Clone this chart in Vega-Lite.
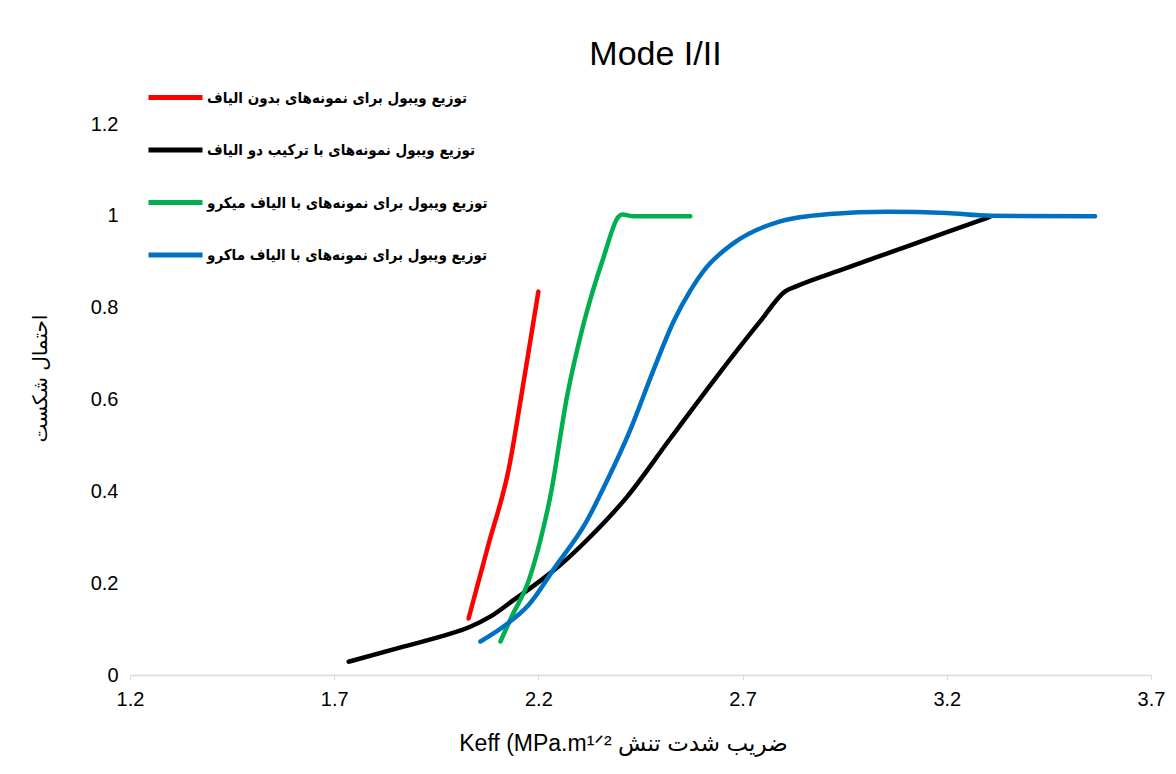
{
  "$schema": "https://vega.github.io/schema/vega-lite/v6.json",
  "autosize": "none",
  "width": 1021,
  "height": 551,
  "padding": {"left": 130, "top": 124, "right": 25, "bottom": 99},
  "background": "white",
  "config": {
    "font": "Liberation Sans, DejaVu Sans",
    "view": {"stroke": null}
  },
  "title": {
    "text": "Mode I/II",
    "font": "Liberation Sans",
    "fontSize": 34,
    "fontWeight": "normal",
    "color": "#000000",
    "anchor": "middle",
    "dx": 15,
    "dy": 44,
    "offset": 40
  },
  "data": {
    "values": [
      {"s": "توزیع ویبول برای نمونه‌های بدون الیاف", "k": 2.029, "p": 0.123},
      {"s": "توزیع ویبول برای نمونه‌های بدون الیاف", "k": 2.078, "p": 0.285},
      {"s": "توزیع ویبول برای نمونه‌های بدون الیاف", "k": 2.127, "p": 0.447},
      {"s": "توزیع ویبول برای نمونه‌های بدون الیاف", "k": 2.165, "p": 0.645},
      {"s": "توزیع ویبول برای نمونه‌های بدون الیاف", "k": 2.200, "p": 0.835},

      {"s": "توزیع ویبول نمونه‌های با ترکیب دو الیاف", "k": 1.7355, "p": 0.029},
      {"s": "توزیع ویبول نمونه‌های با ترکیب دو الیاف", "k": 1.854, "p": 0.058},
      {"s": "توزیع ویبول نمونه‌های با ترکیب دو الیاف", "k": 1.960, "p": 0.0835},
      {"s": "توزیع ویبول نمونه‌های با ترکیب دو الیاف", "k": 2.033, "p": 0.105},
      {"s": "توزیع ویبول نمونه‌های با ترکیب دو الیاف", "k": 2.082, "p": 0.127},
      {"s": "توزیع ویبول نمونه‌های با ترکیب دو الیاف", "k": 2.139, "p": 0.163},
      {"s": "توزیع ویبول نمونه‌های با ترکیب دو الیاف", "k": 2.197, "p": 0.200},
      {"s": "توزیع ویبول نمونه‌های با ترکیب دو الیاف", "k": 2.254, "p": 0.240},
      {"s": "توزیع ویبول نمونه‌های با ترکیب دو الیاف", "k": 2.319, "p": 0.294},
      {"s": "توزیع ویبول نمونه‌های با ترکیب دو الیاف", "k": 2.417, "p": 0.388},
      {"s": "توزیع ویبول نمونه‌های با ترکیب دو الیاف", "k": 2.523, "p": 0.515},
      {"s": "توزیع ویبول نمونه‌های با ترکیب دو الیاف", "k": 2.637, "p": 0.650},
      {"s": "توزیع ویبول نمونه‌های با ترکیب دو الیاف", "k": 2.743, "p": 0.770},
      {"s": "توزیع ویبول نمونه‌های با ترکیب دو الیاف", "k": 2.805, "p": 0.836},
      {"s": "توزیع ویبول نمونه‌های با ترکیب دو الیاف", "k": 2.834, "p": 0.8475},
      {"s": "توزیع ویبول نمونه‌های با ترکیب دو الیاف", "k": 2.950, "p": 0.885},
      {"s": "توزیع ویبول نمونه‌های با ترکیب دو الیاف", "k": 3.070, "p": 0.923},
      {"s": "توزیع ویبول نمونه‌های با ترکیب دو الیاف", "k": 3.190, "p": 0.961},
      {"s": "توزیع ویبول نمونه‌های با ترکیب دو الیاف", "k": 3.306, "p": 0.998},

      {"s": "توزیع ویبول برای نمونه‌های با الیاف میکرو", "k": 2.107, "p": 0.073},
      {"s": "توزیع ویبول برای نمونه‌های با الیاف میکرو", "k": 2.135, "p": 0.128},
      {"s": "توزیع ویبول برای نمونه‌های با الیاف میکرو", "k": 2.176, "p": 0.205},
      {"s": "توزیع ویبول برای نمونه‌های با الیاف میکرو", "k": 2.205, "p": 0.294},
      {"s": "توزیع ویبول برای نمونه‌های با الیاف میکرو", "k": 2.229, "p": 0.388},
      {"s": "توزیع ویبول برای نمونه‌های با الیاف میکرو", "k": 2.270, "p": 0.606},
      {"s": "توزیع ویبول برای نمونه‌های با الیاف میکرو", "k": 2.311, "p": 0.766},
      {"s": "توزیع ویبول برای نمونه‌های با الیاف میکرو", "k": 2.360, "p": 0.911},
      {"s": "توزیع ویبول برای نمونه‌های با الیاف میکرو", "k": 2.396, "p": 0.998},
      {"s": "توزیع ویبول برای نمونه‌های با الیاف میکرو", "k": 2.405, "p": 1.003},
      {"s": "توزیع ویبول برای نمونه‌های با الیاف میکرو", "k": 2.433, "p": 0.999},
      {"s": "توزیع ویبول برای نمونه‌های با الیاف میکرو", "k": 2.572, "p": 0.999},

      {"s": "توزیع ویبول برای نمونه‌های با الیاف ماکرو", "k": 2.058, "p": 0.073},
      {"s": "توزیع ویبول برای نمونه‌های با الیاف ماکرو", "k": 2.123, "p": 0.111},
      {"s": "توزیع ویبول برای نمونه‌های با الیاف ماکرو", "k": 2.176, "p": 0.1525},
      {"s": "توزیع ویبول برای نمونه‌های با الیاف ماکرو", "k": 2.241, "p": 0.235},
      {"s": "توزیع ویبول برای نمونه‌های با الیاف ماکرو", "k": 2.315, "p": 0.330},
      {"s": "توزیع ویبول برای نمونه‌های با الیاف ماکرو", "k": 2.368, "p": 0.423},
      {"s": "توزیع ویبول برای نمونه‌های با الیاف ماکرو", "k": 2.425, "p": 0.534},
      {"s": "توزیع ویبول برای نمونه‌های با الیاف ماکرو", "k": 2.482, "p": 0.6645},
      {"s": "توزیع ویبول برای نمونه‌های با الیاف ماکرو", "k": 2.531, "p": 0.770},
      {"s": "توزیع ویبول برای نمونه‌های با الیاف ماکرو", "k": 2.572, "p": 0.837},
      {"s": "توزیع ویبول برای نمونه‌های با الیاف ماکرو", "k": 2.610, "p": 0.886},
      {"s": "توزیع ویبول برای نمونه‌های با الیاف ماکرو", "k": 2.678, "p": 0.9405},
      {"s": "توزیع ویبول برای نمونه‌های با الیاف ماکرو", "k": 2.792, "p": 0.988},
      {"s": "توزیع ویبول برای نمونه‌های با الیاف ماکرو", "k": 2.914, "p": 1.004},
      {"s": "توزیع ویبول برای نمونه‌های با الیاف ماکرو", "k": 3.053, "p": 1.009},
      {"s": "توزیع ویبول برای نمونه‌های با الیاف ماکرو", "k": 3.200, "p": 1.006},
      {"s": "توزیع ویبول برای نمونه‌های با الیاف ماکرو", "k": 3.306, "p": 1.000},
      {"s": "توزیع ویبول برای نمونه‌های با الیاف ماکرو", "k": 3.563, "p": 0.999}
    ]
  },
  "mark": {"type": "line", "interpolate": "monotone", "strokeWidth": 4.5, "strokeCap": "round", "strokeJoin": "round", "clip": false},
  "encoding": {
    "x": {
      "field": "k",
      "type": "quantitative",
      "scale": {"domain": [1.2, 3.7], "nice": false, "zero": false},
      "axis": {
        "values": [1.2, 1.7, 2.2, 2.7, 3.2, 3.7],
        "format": "~g",
        "grid": false,
        "labelFlush": false,
        "domainColor": "#d9d9d9",
        "domainWidth": 1.5,
        "tickColor": "#d9d9d9",
        "tickSize": 5,
        "labelFontSize": 20,
        "labelColor": "#000000",
        "labelPadding": 9,
        "labelFont": "Liberation Sans",
        "title": "Keff (MPa.m¹ᐟ² ضریب شدت تنش",
        "titleFont": "Liberation Sans, DejaVu Sans",
        "titleFontSize": 23,
        "titleFontWeight": "normal",
        "titleColor": "#000000",
        "titleX": 493,
        "titleY": 75,
        "titleBaseline": "alphabetic",
        "titleAlign": "center"
      }
    },
    "y": {
      "field": "p",
      "type": "quantitative",
      "scale": {"domain": [0, 1.2], "nice": false},
      "axis": {
        "values": [0, 0.2, 0.4, 0.6, 0.8, 1, 1.2],
        "format": "~g",
        "grid": false,
        "labelFlush": false,
        "domain": false,
        "ticks": false,
        "labelFontSize": 20,
        "labelColor": "#000000",
        "labelPadding": 12,
        "labelFont": "Liberation Sans",
        "title": "احتمال شکست",
        "titleFont": "DejaVu Sans",
        "titleFontSize": 20,
        "titleFontWeight": "normal",
        "titleColor": "#000000",
        "titleX": -90,
        "titleY": 254,
        "titleAngle": -90,
        "titleAlign": "center",
        "titleBaseline": "middle"
      }
    },
    "color": {
      "field": "s",
      "type": "nominal",
      "scale": {
        "domain": [
          "توزیع ویبول برای نمونه‌های بدون الیاف",
          "توزیع ویبول نمونه‌های با ترکیب دو الیاف",
          "توزیع ویبول برای نمونه‌های با الیاف میکرو",
          "توزیع ویبول برای نمونه‌های با الیاف ماکرو"
        ],
        "range": ["#ff0000", "#000000", "#00b050", "#0070c0"]
      },
      "legend": {
        "title": null,
        "orient": "none",
        "legendX": 16,
        "legendY": -56,
        "symbolType": "stroke",
        "symbolSize": 2916,
        "symbolStrokeWidth": 5,
        "rowPadding": 12.5,
        "labelFont": "DejaVu Sans Condensed, DejaVu Sans",
        "labelFontSize": 15,
        "labelFontWeight": "bold",
        "labelColor": "#000000",
        "labelLimit": 500,
        "labelOffset": 2
      }
    }
  }
}
